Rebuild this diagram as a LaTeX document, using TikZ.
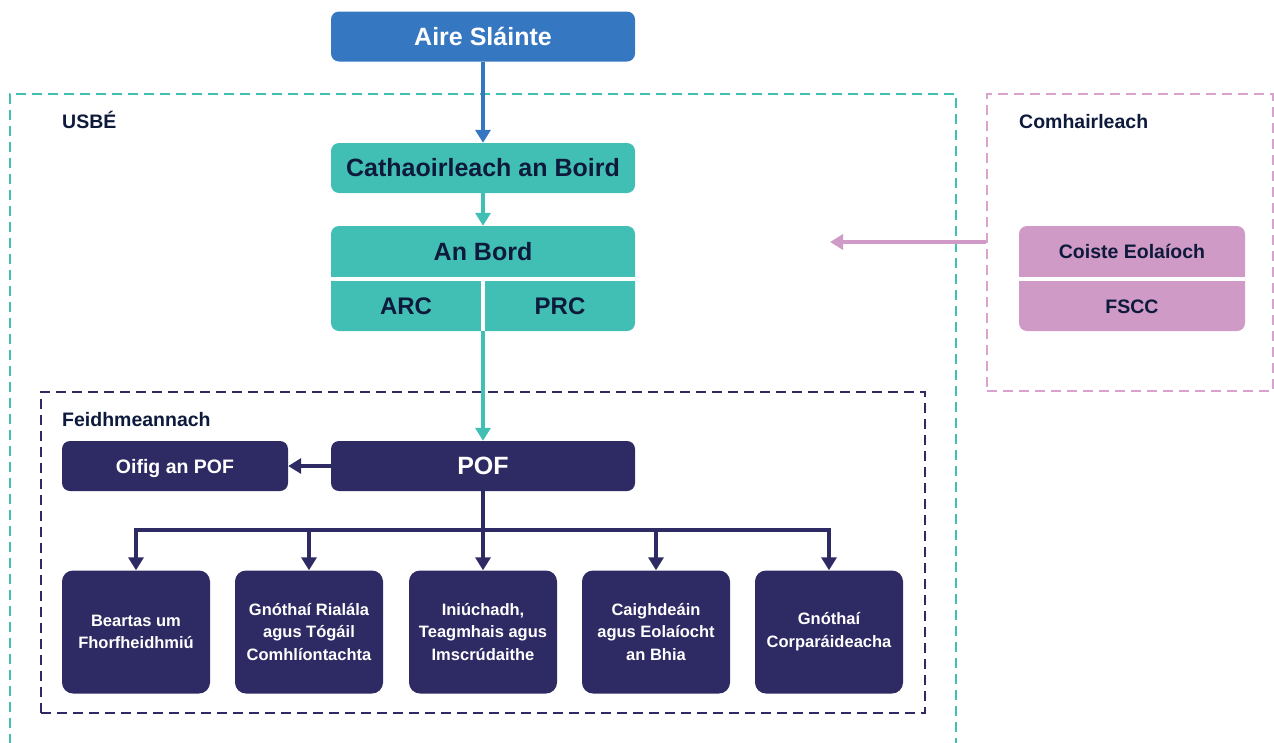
\documentclass[tikz,border=0pt]{standalone}
\usepackage{fontspec}
\setmainfont{Liberation Sans}
\usetikzlibrary{arrows.meta}
\definecolor{aireblue}{HTML}{3677C1}
\definecolor{usbeteal}{HTML}{42BFB4}
\definecolor{execnavy}{HTML}{2E2A63}
\definecolor{advpink}{HTML}{D09AC6}
\definecolor{framepink}{HTML}{D9A3D0}
\definecolor{inknavy}{HTML}{0E1A3C}
\begin{document}
\begin{tikzpicture}[x=1pt, y=-1pt,
    bigbox/.style = {rounded corners=8pt, minimum width=304pt, minimum height=50pt, inner sep=0pt,
                     font=\fontsize{25}{30}\selectfont\bfseries, text height=17.9pt, text depth=0pt},
    midbox/.style = {rounded corners=8pt, minimum width=226pt, minimum height=50pt, inner sep=0pt,
                     font=\fontsize{19.5}{24}\selectfont\bfseries, text height=14pt, text depth=0pt},
    unitbox/.style = {fill=execnavy, text=white, rounded corners=11pt, minimum width=148pt, minimum height=123pt,
                      inner sep=0pt, align=center, font=\fontsize{16.5}{22.7}\selectfont\bfseries},
    bandtxt/.style = {inner sep=0pt, text depth=0pt},
    lbl/.style = {anchor=west, inner sep=0pt, text=inknavy, font=\fontsize{19.5}{24}\selectfont\bfseries,
                  text height=14pt, text depth=0pt},
    dashframe/.style = {line width=2pt, dash pattern=on 10pt off 6pt},
    arrow/.style = {line width=3.5pt, -{Triangle[width=15pt, length=13pt]}},
    stem/.style = {line width=3.5pt}]
    \useasboundingbox (0,0) rectangle (1274,742);

    \draw[dashframe, usbeteal] (10,760) -- (10,94) -- (956,94) -- (956,760);
    \node[dashframe, draw=framepink, minimum width=286pt, minimum height=297pt] (comh) at (1130,242.5) {};
    \node[dashframe, draw=execnavy, minimum width=884pt, minimum height=321pt] (feid) at (483,552.5) {};

    \node[lbl] (usbelbl) at (62,121) {USBÉ};
    \node[lbl] (comhlbl) at (1019,121) {Comhairleach};
    \node[lbl] (feidlbl) at (62,419) {Feidhmeannach};

    \node[bigbox, fill=aireblue, text=white] (aire) at (483,36.5) {Aire Sláinte};
    \node[bigbox, fill=usbeteal, text=inknavy] (cath) at (483,168) {Cathaoirleach an Boird};
    \node[bigbox, fill=usbeteal, minimum height=105pt] (bordblk) at (483,278.5) {};
    \draw[white, line width=4pt] (bordblk.west |- 0,279) -- (bordblk.east |- 0,279);
    \draw[white, line width=4pt] (bordblk.south) -- (bordblk.south |- 0,279);
    \node[bandtxt, text=inknavy, text height=17.9pt, font=\fontsize{25}{30}\selectfont\bfseries] (bord) at (483,251.5) {An Bord};
    \node[bandtxt, text=inknavy, text height=17.2pt, font=\fontsize{24}{30}\selectfont\bfseries] (arc) at (406,306) {ARC};
    \node[bandtxt, text=inknavy, text height=17.2pt, font=\fontsize{24}{30}\selectfont\bfseries] (prc) at (560,306) {PRC};

    \node[midbox, fill=advpink, minimum height=105pt] (coiste) at (1132,278.5) {};
    \draw[white, line width=4pt] (coiste.west |- 0,279) -- (coiste.east |- 0,279);
    \node[bandtxt, text=inknavy, text height=14pt, font=\fontsize{19.5}{24}\selectfont\bfseries] (coistetxt) at (1132,251.5) {Coiste Eolaíoch};
    \node[bandtxt, text=inknavy, text height=14pt, font=\fontsize{19.5}{24}\selectfont\bfseries] (fscc) at (1132,306) {FSCC};

    \node[bigbox, fill=execnavy, text=white] (pof) at (483,466) {POF};
    \node[midbox, fill=execnavy, text=white] (oifig) at (175,466) {Oifig an POF};

    \node[unitbox] (u1) at (136,632) {Beartas um\\Fhorfheidhmiú};
    \node[unitbox] (u2) at (309,632) {Gnóthaí Rialála\\agus Tógáil\\Comhlíontachta};
    \node[unitbox] (u3) at (483,632) {Iniúchadh,\\Teagmhais agus\\Imscrúdaithe};
    \node[unitbox] (u4) at (656,632) {Caighdeáin\\agus Eolaíocht\\an Bhia};
    \node[unitbox] (u5) at (829,632) {Gnóthaí\\Corparáideacha};

    \draw[arrow, aireblue] (aire) -- (cath);
    \draw[arrow, usbeteal] (cath) -- (bordblk);
    \draw[arrow, usbeteal] (bordblk) -- (pof);
    \coordinate (advtip) at (830,242);
    \draw[arrow, advpink] (comh.west |- advtip) -- (advtip);
    \draw[arrow, execnavy] (pof) -- (oifig);
    \coordinate (fork) at (483,530);
    \draw[stem, execnavy] (pof) -- (fork);
    \foreach \u in {u1,u2,u3,u4,u5}
        \draw[arrow, execnavy] (fork) -| (\u.north);
\end{tikzpicture}
\end{document}
